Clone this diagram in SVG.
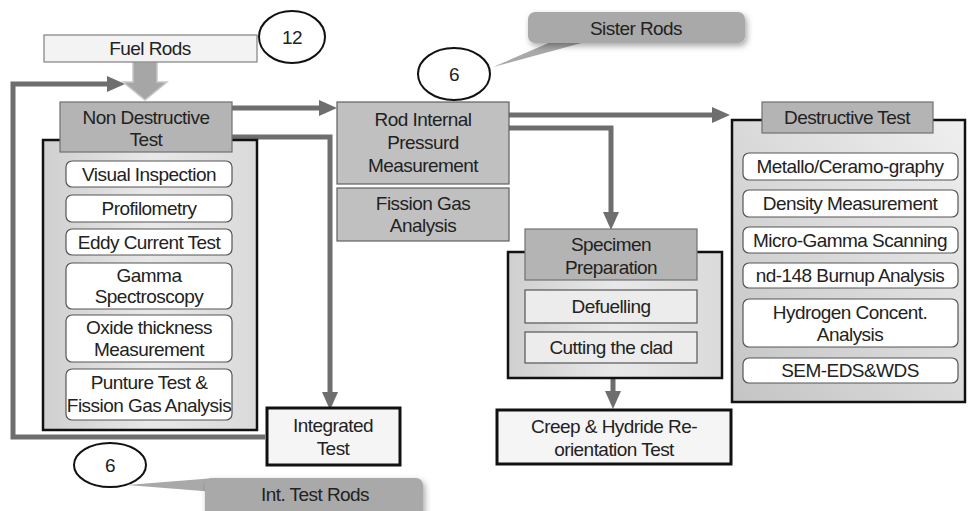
<svg xmlns="http://www.w3.org/2000/svg" width="968" height="511" viewBox="0 0 968 511">
<defs>
<linearGradient id="gNdt" x1="0" y1="0" x2="1" y2="0">
<stop offset="0" stop-color="#cfcfcf"/><stop offset="0.5" stop-color="#e8e8e8"/><stop offset="1" stop-color="#dadada"/>
</linearGradient>
<linearGradient id="gBox" x1="0" y1="1" x2="1" y2="0">
<stop offset="0" stop-color="#c4c4c4"/><stop offset="1" stop-color="#efefef"/>
</linearGradient>
<marker id="ah" viewBox="0 0 18 16" markerWidth="18" markerHeight="16" refX="0" refY="8" orient="auto" markerUnits="userSpaceOnUse">
<path d="M0,0 L18,8 L0,16 z" fill="#6e6e6e"/>
</marker>
<filter id="sh" x="-20%" y="-40%" width="140%" height="200%">
<feDropShadow dx="2" dy="3" stdDeviation="3" flood-color="#000" flood-opacity="0.35"/>
</filter>
</defs>
<style>
text{font-family:"Liberation Sans",Arial,sans-serif;font-size:19px;fill:#222;text-anchor:middle;letter-spacing:-0.55px}
.conn{fill:none;stroke:#6e6e6e;stroke-width:5}
.hdr{fill:#b4b4b4;stroke:#707070;stroke-width:1.2}
.rod{fill:#c0c0c0;stroke:#606060;stroke-width:1.2}
.item{fill:#fff;stroke:#555;stroke-width:1.2}
.flat{fill:#ececec;stroke:#555;stroke-width:1.2}
.cont{stroke:#111;stroke-width:2.5}
.term{fill:#f5f5f5;stroke:#111;stroke-width:3}
.oval{fill:#fff;stroke:#111;stroke-width:2}
.call{fill:#a9a9a9;filter:url(#sh)}
</style>

<g id="connectors">
<path class="conn" d="M265,437 H13 V84 H107" marker-end="url(#ah)"/>
<path class="conn" d="M232,108 H319" marker-end="url(#ah)"/>
<path class="conn" d="M232,137 H330 V392" marker-end="url(#ah)"/>
<path class="conn" d="M509,115 H712" marker-end="url(#ah)"/>
<path class="conn" d="M509,128 H611 V212" marker-end="url(#ah)"/>
<path class="conn" d="M613,378 V391" stroke-width="7" marker-end="url(#ah)"/>
<polygon points="133,62 157,62 157,82 167,82 145,100 123,82 133,82" fill="#a6a6a6" stroke="#c8c8c8" stroke-width="1.5"/>
</g>

<g id="fuel-rods">
<rect x="44" y="35" width="213" height="27" fill="#f3f3f3" stroke="#808080" stroke-width="1.2"/>
<text x="150" y="55">Fuel Rods</text>
</g>
<g id="count-12">
<ellipse class="oval" cx="292" cy="37" rx="33" ry="26"/>
<text x="292" y="44">12</text>
</g>

<g id="non-destructive-test">
<rect class="cont" x="43" y="140" width="214" height="290" fill="url(#gNdt)"/>
<rect class="hdr" x="60" y="102" width="172" height="50"/>
<text x="146" y="124">Non Destructive</text>
<text x="146" y="146">Test</text>
<rect class="item" x="66" y="161" width="166" height="26" rx="6"/>
<text x="149" y="181">Visual Inspection</text>
<rect class="item" x="66" y="195" width="166" height="27" rx="6"/>
<text x="149" y="215">Profilometry</text>
<rect class="item" x="66" y="229" width="166" height="26" rx="6"/>
<text x="149" y="249">Eddy Current Test</text>
<rect class="item" x="66" y="263" width="166" height="46" rx="6"/>
<text x="149" y="282">Gamma</text>
<text x="149" y="303">Spectroscopy</text>
<rect class="item" x="66" y="315" width="166" height="47" rx="6"/>
<text x="149" y="334">Oxide thickness</text>
<text x="149" y="356">Measurement</text>
<rect class="item" x="66" y="369" width="166" height="51" rx="6"/>
<text x="149" y="389">Punture Test &amp;</text>
<text x="149" y="412">Fission Gas Analysis</text>
</g>

<g id="integrated-test">
<rect class="term" x="267" y="408" width="133" height="57"/>
<text x="333" y="432">Integrated</text>
<text x="333" y="455">Test</text>
</g>

<g id="count-6-int">
<ellipse class="oval" cx="110" cy="465" rx="36" ry="22"/>
<text x="110" y="472">6</text>
</g>
<g id="int-test-rods">
<polygon points="127,485 215,478 215,492" fill="#a9a9a9"/>
<rect class="call" x="205" y="478" width="218" height="40" rx="7"/>
<text x="315" y="501">Int. Test Rods</text>
</g>

<g id="rod-internal-pressure">
<rect class="rod" x="337" y="102" width="172" height="82"/>
<text x="423" y="126">Rod Internal</text>
<text x="423" y="149">Pressurd</text>
<text x="423" y="172">Measurement</text>
</g>
<g id="fission-gas-analysis">
<rect class="rod" x="337" y="188" width="172" height="53"/>
<text x="423" y="210">Fission Gas</text>
<text x="423" y="232">Analysis</text>
</g>

<g id="count-6-sister">
<ellipse class="oval" cx="454" cy="74" rx="36" ry="26"/>
<text x="454" y="81">6</text>
</g>
<g id="sister-rods">
<polygon points="493,67 560,38 600,38" fill="#a9a9a9"/>
<rect class="call" x="528" y="12" width="217" height="31" rx="7"/>
<text x="636" y="35">Sister Rods</text>
</g>

<g id="specimen-preparation">
<rect class="cont" x="508" y="252" width="214" height="126" fill="url(#gNdt)"/>
<rect class="hdr" x="525" y="229" width="172" height="51"/>
<text x="611" y="251">Specimen</text>
<text x="611" y="274">Preparation</text>
<rect class="flat" x="525" y="290" width="172" height="33"/>
<text x="611" y="313">Defuelling</text>
<rect class="flat" x="525" y="332" width="172" height="31"/>
<text x="611" y="354">Cutting the clad</text>
</g>

<g id="creep-hydride">
<rect class="term" x="497" y="410" width="234" height="54"/>
<text x="614" y="433">Creep &amp; Hydride Re-</text>
<text x="614" y="456">orientation Test</text>
</g>

<g id="destructive-test">
<rect class="cont" x="732" y="120" width="233" height="282" fill="url(#gBox)"/>
<rect class="hdr" x="762" y="102" width="171" height="31"/>
<text x="847" y="124">Destructive Test</text>
<rect class="item" x="743" y="153" width="215" height="27" rx="6"/>
<text x="850" y="173">Metallo/Ceramo-graphy</text>
<rect class="item" x="743" y="190" width="215" height="27" rx="6"/>
<text x="850" y="210">Density Measurement</text>
<rect class="item" x="743" y="227" width="215" height="26" rx="6"/>
<text x="850" y="247">Micro-Gamma Scanning</text>
<rect class="item" x="743" y="263" width="215" height="25" rx="6"/>
<text x="850" y="282">nd-148 Burnup Analysis</text>
<rect class="item" x="743" y="299" width="215" height="48" rx="6"/>
<text x="850" y="319">Hydrogen Concent.</text>
<text x="850" y="341">Analysis</text>
<rect class="item" x="743" y="358" width="215" height="25" rx="6"/>
<text x="850" y="377">SEM-EDS&amp;WDS</text>
</g>
</svg>
